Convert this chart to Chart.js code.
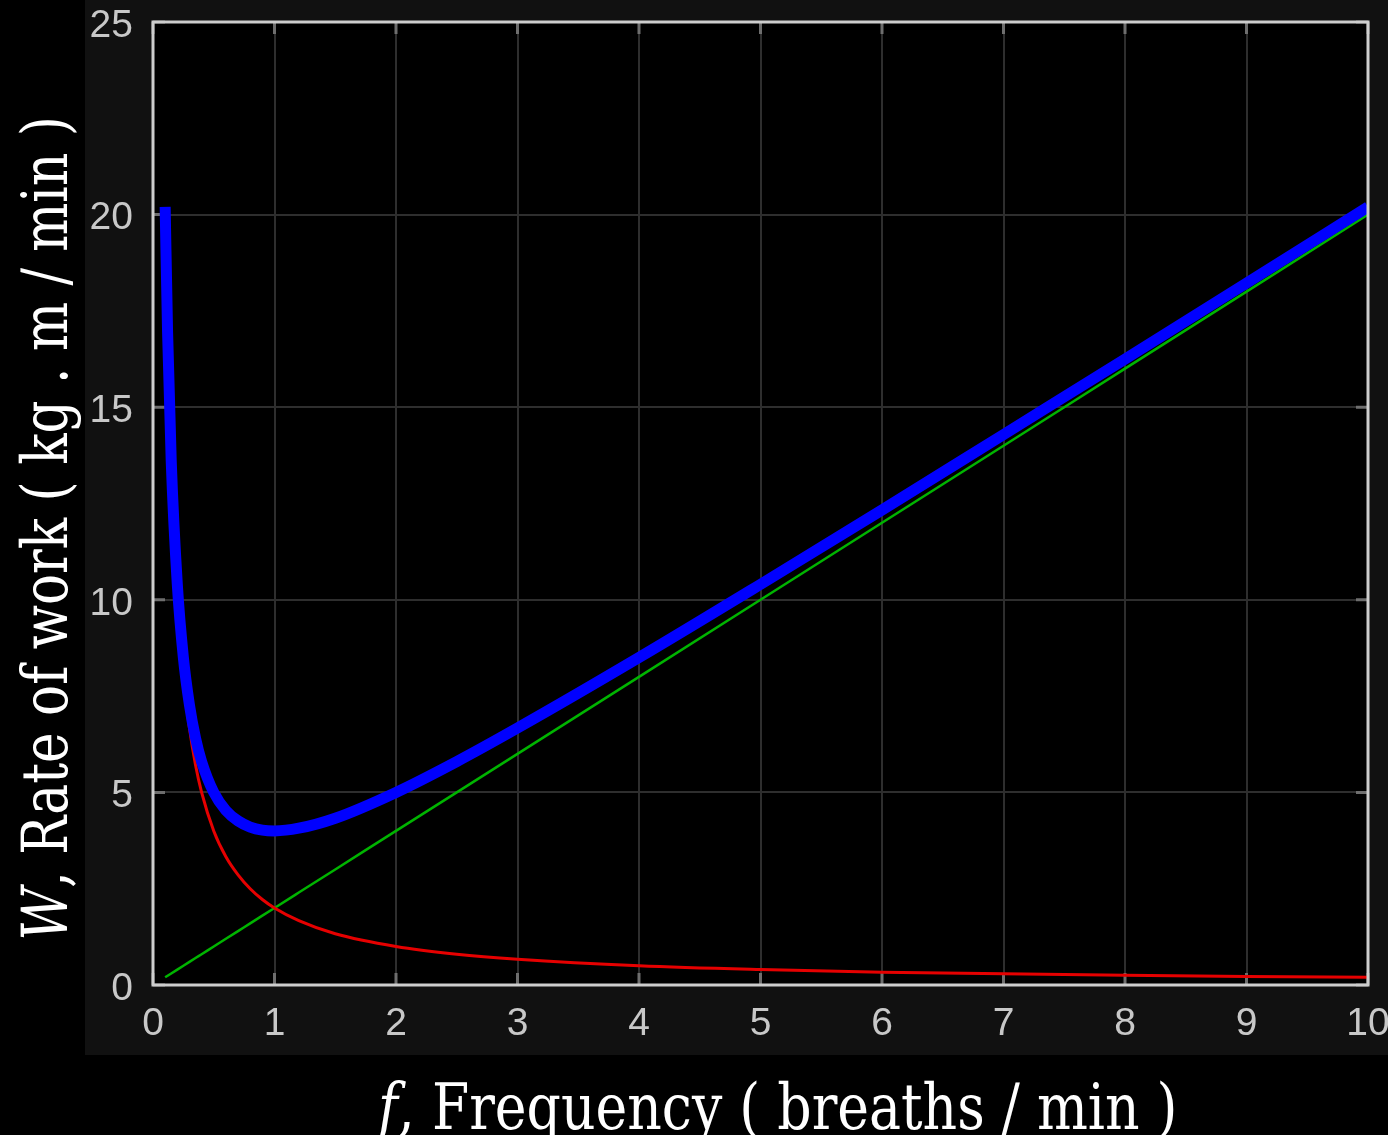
<!DOCTYPE html>
<html>
<head>
<meta charset="utf-8">
<script src="https://cdn.jsdelivr.net/npm/chart.js@4/dist/chart.umd.min.js"></script>
<style>
  html, body { margin: 0; padding: 0; background: #000; width: 1388px; height: 1135px; overflow: hidden; }
  #panel { position: absolute; left: 85px; top: 0; width: 1303px; height: 1055px; background: #111; }
  .titulo { position: absolute; left: 0; top: 0; font-family: "DejaVu Serif", "Liberation Serif", serif;
            color: #fff; line-height: 1; white-space: nowrap; }
</style>
</head>
<body>
<div id="panel"><canvas id="trabajo"></canvas></div>
<div id="tituloY" class="titulo" style="font-size:63px"><i>W</i>, Rate of work ( kg . m / min )</div>
<div id="tituloX" class="titulo" style="font-size:64px"><i>f</i>, Frequency ( breaths / min )</div>
<script>
/* ===================== DATOS ===================== */
// frecuencia (breaths / min)
const freq = [0.1, 0.12, 0.15, 0.2, 0.25, 0.3, 0.35, 0.4, 0.5, 0.6, 0.7, 0.8, 0.9, 1,
              1.2, 1.5, 2, 2.5, 3, 4, 5, 6, 7, 8, 9, 10];
// trabajo elastico (rojo)
const elastico = [20, 16.7, 13.3, 10, 8, 6.67, 5.71, 5, 4, 3.33, 2.86, 2.5, 2.22, 2,
                  1.67, 1.33, 1, 0.8, 0.67, 0.5, 0.4, 0.33, 0.29, 0.25, 0.22, 0.2];
// trabajo resistivo (verde)
const resistivo = [0.2, 0.24, 0.3, 0.4, 0.5, 0.6, 0.7, 0.8, 1, 1.2, 1.4, 1.6, 1.8, 2,
                   2.4, 3, 4, 5, 6, 8, 10, 12, 14, 16, 18, 20];
// trabajo total (azul)
const total = [20.2, 16.94, 13.6, 10.4, 8.5, 7.27, 6.41, 5.8, 5, 4.53, 4.26, 4.1, 4.02, 4,
               4.07, 4.33, 5, 5.8, 6.67, 8.5, 10.4, 12.33, 14.29, 16.25, 18.22, 20.2];

const ticksX = [0, 1, 2, 3, 4, 5, 6, 7, 8, 9, 10];
const ticksY = [0, 5, 10, 15, 20, 25];

const puntos = (ys) => freq.map((f, i) => ({ x: f, y: ys[i] }));

/* ===================== MARCO Y MARCAS ===================== */
const marco = {
  id: "marco",
  beforeDraw(chart) {
    const { ctx, chartArea: a } = chart;
    ctx.save();
    ctx.fillStyle = "#000";
    ctx.fillRect(a.left, a.top, a.right - a.left, a.bottom - a.top);
    ctx.restore();
  },
  beforeDatasetsDraw(chart) {
    const { ctx, chartArea: a, scales: { x, y } } = chart;
    ctx.save();
    ctx.strokeStyle = "#6e6e6e";
    ctx.lineWidth = 3;
    ctx.beginPath();
    ticksX.forEach((v) => {
      const px = x.getPixelForValue(v);
      ctx.moveTo(px, a.bottom); ctx.lineTo(px, a.bottom - 12);
      ctx.moveTo(px, a.top); ctx.lineTo(px, a.top + 12);
    });
    ticksY.forEach((v) => {
      const py = y.getPixelForValue(v);
      ctx.moveTo(a.left, py); ctx.lineTo(a.left + 12, py);
      ctx.moveTo(a.right, py); ctx.lineTo(a.right - 12, py);
    });
    ctx.stroke();
    ctx.restore();
  },
  afterDatasetsDraw(chart) {
    const { ctx, chartArea: a } = chart;
    ctx.save();
    ctx.strokeStyle = "#cdcdcd";
    ctx.lineWidth = 3;
    ctx.strokeRect(a.left, a.top, a.right - a.left, a.bottom - a.top);
    ctx.restore();
  },
};

/* ===================== GRAFICO ===================== */
const sinRelleno = (s) => { s.paddingLeft = 0; s.paddingRight = 0; s.paddingTop = 0; s.paddingBottom = 0; };
const fuenteTicks = { family: "'Liberation Sans Narrow', 'Liberation Sans', Arial, sans-serif", size: 39 };

new Chart(document.getElementById("trabajo"), {
  type: "line",
  data: {
    datasets: [
      // el azul queda encima de las otras dos
      { data: puntos(total), borderColor: "#0000ff", borderWidth: 11, borderCapStyle: "butt", order: 0 },
      { data: puntos(elastico), borderColor: "#e60000", borderWidth: 3, order: 1 },
      { data: puntos(resistivo), borderColor: "#00b400", borderWidth: 2.5, order: 2 },
    ],
  },
  plugins: [marco],
  options: {
    responsive: true,
    maintainAspectRatio: false,
    animation: false,
    events: [],
    layout: { padding: { top: 22, right: 20, left: 0, bottom: 0 } },
    elements: {
      point: { radius: 0 },
      line: { cubicInterpolationMode: "monotone", borderJoinStyle: "round" },
    },
    plugins: { legend: { display: false }, tooltip: { enabled: false } },
    scales: {
      x: {
        type: "linear",
        min: 0,
        max: 10,
        afterBuildTicks: (s) => { s.ticks = ticksX.map((v) => ({ value: v })); },
        afterFit: (s) => { s.height = 70; sinRelleno(s); },
        grid: { color: "#2e2e2e", lineWidth: 2, drawTicks: false },
        border: { display: false },
        ticks: { color: "#c8c8c8", padding: 16, maxRotation: 0, font: fuenteTicks },
      },
      y: {
        min: 0,
        max: 25,
        afterBuildTicks: (s) => { s.ticks = ticksY.map((v) => ({ value: v })); },
        afterFit: (s) => { s.width = 68; sinRelleno(s); },
        grid: { color: "#2e2e2e", lineWidth: 2, drawTicks: false },
        border: { display: false },
        ticks: { color: "#c8c8c8", padding: 20, labelOffset: 4, font: fuenteTicks },
      },
    },
  },
});

/* ===================== TITULOS ===================== */
// centra el titulo en (cx, cy), lo gira y lo ajusta al ancho pedido
function ubicarTitulo(id, cx, cy, ancho, giro) {
  const el = document.getElementById(id);
  const s = ancho / el.offsetWidth;
  el.style.left = cx - el.offsetWidth / 2 + "px";
  el.style.top = cy - el.offsetHeight / 2 + "px";
  el.style.transform = `rotate(${giro}deg) scaleX(${s})`;
}
ubicarTitulo("tituloY", 45, 528, 825, -90);
ubicarTitulo("tituloX", 778, 1107, 800, 0);
</script>
</body>
</html>
